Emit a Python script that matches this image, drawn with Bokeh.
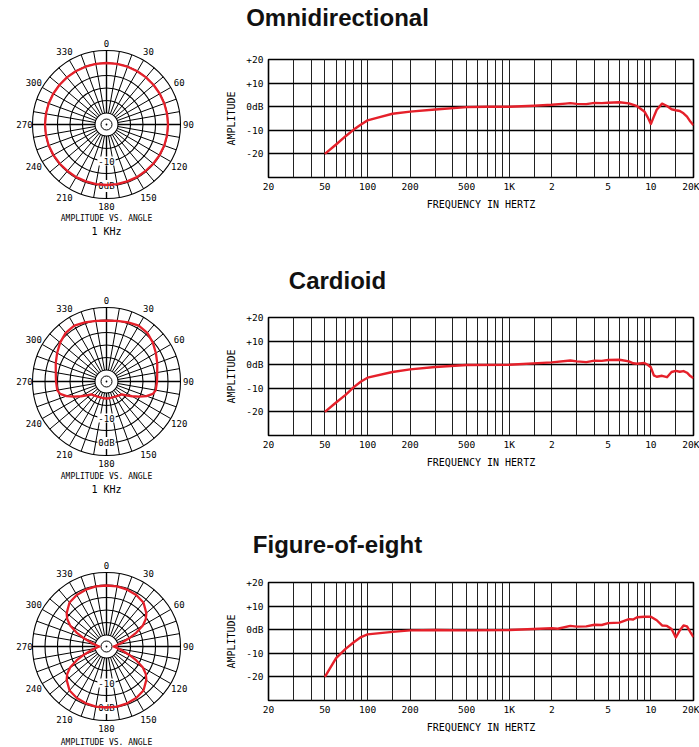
import math
from bokeh.plotting import figure
from bokeh.layouts import column, row
from bokeh.models import Range1d, FixedTicker
from bokeh.embed import file_html
from bokeh.resources import INLINE
from bokeh.core.properties import value

RED = "#e5202a"
MONO = "DejaVu Sans Mono"
TITLE_FONT = "Liberation Sans"

# ---------------- data ----------------
titles = ["Omnidirectional", "Cardioid", "Figure-of-eight"]

# frequency responses (Hz, dB)
omni_freq = [50, 60, 70, 80, 90, 100, 120, 150, 200, 300, 500, 700, 1000, 1500,
             2000, 2500, 2700, 3000, 3500, 4000, 4500, 5000, 6000, 7000, 8000,
             9000, 9500, 10000, 10500, 11000, 12000, 13000, 14000, 15000, 16000,
             17000, 18000, 19000, 20000]
omni_db = [-20, -16, -12.5, -9.7, -7.5, -5.8, -4.5, -3.0, -2.1, -1.2, -0.2, 0, 0, 0.4,
           0.8, 1.3, 1.5, 1.2, 1.1, 1.6, 1.5, 1.7, 1.9, 1.4, 0.2,
           -2.0, -4.5, -7.3, -4.2, -1.3, 1.3, 0.3, -1.1, -1.5, -1.8,
           -2.8, -4.2, -6.3, -7.9]

cardioid_freq = [50, 60, 70, 80, 90, 100, 150, 200, 300, 500, 1000, 2000, 2700, 3000,
                 3500, 4000, 4500, 5000, 6000, 7000, 7500, 8000, 9000, 9500, 10000,
                 10500, 11000, 12000, 13000, 14000, 15000, 16000, 17000, 18000,
                 19000, 20000]
cardioid_db = [-20, -16, -12.8, -9.5, -7.1, -5.5, -3.1, -2.0, -1.0, -0.1, 0, 1.0, 1.8, 1.4,
               1.1, 1.7, 1.6, 2.0, 2.1, 1.4, 0.6, 0.4, 0.7, 0, -1.1,
               -4.5, -5.1, -4.7, -5.3, -3.1, -2.6, -3.0, -2.7, -3.4,
               -4.8, -5.7]

fig8_freq = [50, 60, 70, 80, 90, 100, 150, 200, 300, 500, 1000, 2000, 2200, 2700, 3000,
             3500, 4000, 4500, 5000, 6000, 7000, 7500, 8000, 9000, 10000, 11000, 12000,
             13000, 14000, 15000, 16000, 17000, 18000, 19000, 20000]
fig8_db = [-20, -12, -8.1, -5.3, -3.1, -2.0, -0.9, -0.3, -0.1, -0.3, -0.1, 0.6, 0.4, 1.6, 1.3,
           1.4, 2.1, 2.0, 2.8, 3.0, 4.5, 4.3, 5.3, 5.5, 5.5, 4.0, 1.8,
           1.6, 0.3, -3.3, -0.3, 1.8, 1.4, -1.0, -3.1]

freq_label_ticks = [20, 50, 100, 200, 500, 1000, 2000, 5000, 10000, 20000]
freq_label_text = ["20", "50", "100", "200", "500", "1K", "2", "5", "10", "20K"]
freq_grid = [20, 30, 40, 50, 60, 70, 80, 90, 100, 150, 200, 300, 400, 500, 600, 700,
             800, 900, 1000, 1500, 2000, 3000, 4000, 5000, 6000, 7000, 8000, 9000,
             10000, 15000, 20000]
amp_ticks = [-20, -10, 0, 10, 20]
amp_labels = ["-20", "-10", "0dB", "+10", "+20"]

# polar patterns at 1 kHz (degrees, dB)
omni_ang = list(range(0, 360, 10))
omni_pol = [0, 0, 0, 0, 0, 0, 0, 0, 0, 0,
            0, 0, -0.1, -0.2, -0.3, -0.3, -0.4, -0.4, -0.4, -0.4,
            -0.4, -0.3, -0.3, -0.2, -0.1, 0, 0, 0, 0, 0,
            0, 0, 0, 0, 0, 0]

card_ang = [0, 10, 20, 30, 40, 50, 60, 70, 80, 90, 100, 105, 110, 115, 120, 125, 130,
            140, 150, 160, 170, 180, 190, 200, 210, 220, 230, 235, 240, 245, 250, 255,
            260, 270, 280, 290, 300, 310, 320, 330, 340, 350]
card_pol = [-0.3, 0, 0.6, 1.2, 0.8, -0.4, -1.8, -3.0, -4.0, -4.4, -4.6, -5.4, -7.6,
            -10.2, -12.8, -15.0, -16.6, -17.2, -17.6, -17.8, -17.8, -17.8, -17.8,
            -17.8, -17.6, -17.2, -16.6, -15.0, -12.8, -10.2, -7.6, -5.4, -4.6, -4.4,
            -4.0, -3.0, -1.8, -0.4, 0.8, 1.2, 0.6, 0]

fig8_ang = [0, 10, 20, 30, 40, 50, 55, 60, 65, 70, 75, 80, 85, 90, 95, 100, 105, 110,
            115, 120, 125, 130, 140, 150, 160, 170, 180, 190, 200, 210, 220, 230, 235,
            240, 245, 250, 255, 260, 265, 270, 275, 280, 285, 290, 295, 300, 305, 310,
            320, 330, 340, 350]
fig8_pol = [-0.2, -0.2, -0.4, -0.8, -1.6, -3.8, -5.4, -7.8, -11.4, -15.0, -17.8, -19.8,
            -21.0, -21.8, -21.0, -19.8, -17.8, -15.0, -11.4, -7.8, -5.4, -3.8, -1.6,
            -0.8, -0.4, -0.2, -0.2, -0.2, -0.4, -0.8, -1.6, -3.8, -5.4, -7.8, -11.4,
            -15.0, -17.8, -19.8, -21.0, -21.8, -21.0, -19.8, -17.8, -15.0, -11.4, -7.8,
            -5.4, -3.8, -1.6, -0.8, -0.4, -0.2]

polar_ring_db = [5, 0, -5, -10, -15, -20]
angle_label_deg = [0, 30, 60, 90, 120, 150, 180, 210, 240, 270, 300, 330]
angle_label_text = ["0", "30", "60", "90", "120", "150", "180", "210", "240", "270", "300", "330"]
polar_scale_db = [-10, 0]
polar_scale_text = ["-10", "0dB"]

# ---------------- drawing ----------------
R0, PX_DB = 61.5, 2.5
FH = 118          # frame height of the response charts
PW, FW = 208, 491  # widths of polar / response figures


def r_of(db):
    return R0 + PX_DB * db


def title_fig(h, text, baseline):
    p = figure(width=PW + FW, height=h, x_range=Range1d(0, PW + FW), y_range=Range1d(h, 0),
               toolbar_location=None, output_backend="svg", min_border=0,
               x_axis_location=None, y_axis_location=None, frame_align=False)
    p.grid.visible = False
    p.outline_line_color = None
    p.text(x=[337], y=[baseline], text=[text], text_font=value(TITLE_FONT),
           text_font_style="bold", text_font_size="24px", text_align="center",
           text_baseline="alphabetic", text_color="#111111")
    return p


def polar_fig(h, cy, ang, dbs, cap_y, khz_y):
    p = figure(width=PW, height=h, x_range=Range1d(-106, PW - 106), y_range=Range1d(cy - h, cy),
               toolbar_location=None, output_backend="svg", min_border=0,
               x_axis_location=None, y_axis_location=None, frame_align=False)
    p.grid.visible = False
    p.outline_line_color = None

    radii = [r_of(d) for d in polar_ring_db]
    p.circle(x=[0] * len(radii), y=[0] * len(radii), radius=radii,
             fill_color=None, line_color="black", line_width=1.1)
    p.circle(x=[0], y=[0], radius=[5.5], fill_color=None, line_color="black", line_width=1)
    p.circle(x=[0], y=[0], radius=[0.9], fill_color="black", line_color=None)

    r_in, r_out = r_of(min(polar_ring_db)), r_of(max(polar_ring_db))
    spokes = list(range(0, 360, 10))
    p.segment(x0=[r_in * math.sin(math.radians(a)) for a in spokes],
              y0=[r_in * math.cos(math.radians(a)) for a in spokes],
              x1=[r_out * math.sin(math.radians(a)) for a in spokes],
              y1=[r_out * math.cos(math.radians(a)) for a in spokes],
              line_color="black", line_width=1)
    axes = [0, 90, 180, 270]
    p.segment(x0=[r_in * math.sin(math.radians(a)) for a in axes],
              y0=[r_in * math.cos(math.radians(a)) for a in axes],
              x1=[r_out * math.sin(math.radians(a)) for a in axes],
              y1=[r_out * math.cos(math.radians(a)) for a in axes],
              line_color="black", line_width=1.4)

    lr = [81.5 if a % 180 == 0 else (82 if a % 90 == 0 else 84) for a in angle_label_deg]
    p.text(x=[r * math.sin(math.radians(a)) for r, a in zip(lr, angle_label_deg)],
           y=[r * math.cos(math.radians(a)) for r, a in zip(lr, angle_label_deg)],
           text=angle_label_text, text_font=value(MONO), text_font_size="9px",
           text_align="center", text_baseline="middle", text_color="black")

    p.text(x=[0] * len(polar_scale_db), y=[-r_of(d) for d in polar_scale_db],
           text=polar_scale_text, text_font=value(MONO), text_font_size="9px",
           text_align="center", text_baseline="middle", text_color="black",
           background_fill_color="white", padding=1)

    xs = [r_of(d) * math.sin(math.radians(a)) for a, d in zip(ang, dbs)]
    ys = [r_of(d) * math.cos(math.radians(a)) for a, d in zip(ang, dbs)]
    xs.append(xs[0])
    ys.append(ys[0])
    p.line(xs, ys, line_color=RED, line_width=2.3, line_join="round")

    p.text(x=[0], y=[cap_y], text=["AMPLITUDE VS. ANGLE"], text_font=value(MONO),
           text_font_size="8px", text_align="center", text_baseline="middle", text_color="black")
    if khz_y is not None:
        p.text(x=[0], y=[khz_y], text=["1 KHz"], text_font=value(MONO),
               text_font_size="10px", text_align="center", text_baseline="middle",
               text_color="black")
    return p


def freq_fig(h, top, freq, dbs):
    p = figure(width=FW, height=h, x_axis_type="log", x_range=Range1d(20, 20000),
               y_range=Range1d(-30, 20), toolbar_location=None, output_backend="svg",
               min_border_left=60, min_border_right=6, min_border_top=top,
               min_border_bottom=h - top - FH, frame_align=False)
    p.outline_line_color = "black"
    p.outline_line_width = 1.6

    p.xaxis.ticker = FixedTicker(ticks=freq_label_ticks)
    p.xaxis.major_label_overrides = dict(zip(freq_label_ticks, freq_label_text))
    p.yaxis.ticker = FixedTicker(ticks=amp_ticks)
    p.yaxis.major_label_overrides = dict(zip(amp_ticks, amp_labels))
    p.xaxis.axis_label = "FREQUENCY IN HERTZ"
    p.yaxis.axis_label = "AMPLITUDE"
    for ax in (p.xaxis, p.yaxis):
        ax.axis_line_color = None
        ax.major_tick_line_color = None
        ax.minor_tick_line_color = None
        ax.major_tick_out = 0
        ax.major_tick_in = 0
        ax.major_label_text_font = MONO
        ax.major_label_text_font_size = "9.5px"
        ax.major_label_text_color = "black"
        ax.axis_label_text_font = MONO
        ax.axis_label_text_font_size = "10px"
        ax.axis_label_text_font_style = "normal"
        ax.axis_label_text_color = "black"
    p.xaxis.major_label_standoff = 3
    p.yaxis.major_label_standoff = 5
    p.xaxis.axis_label_standoff = 4
    p.yaxis.axis_label_standoff = 6

    p.xgrid.ticker = FixedTicker(ticks=freq_grid)
    p.xgrid.grid_line_color = "#222222"
    p.xgrid.grid_line_width = 1
    p.ygrid.ticker = FixedTicker(ticks=amp_ticks)
    p.ygrid.grid_line_color = "black"
    p.ygrid.grid_line_width = 1.3

    p.line(freq, dbs, line_color=RED, line_width=2.4, line_join="round")
    return p


blocks = [
    dict(th=33, tb=17, h=230, top=26, cy=91, cap=-94, khz=-107,
         freq=omni_freq, db=omni_db, ang=omni_ang, pol=omni_pol),
    dict(th=30, tb=17, h=233, top=24, cy=88, cap=-95, khz=-108,
         freq=cardioid_freq, db=cardioid_db, ang=card_ang, pol=card_pol),
    dict(th=32, tb=18, h=189, top=24, cy=88, cap=-95.5, khz=None,
         freq=fig8_freq, db=fig8_db, ang=fig8_ang, pol=fig8_pol),
]

parts = []
for b, title in zip(blocks, titles):
    parts.append(title_fig(b["th"], title, b["tb"]))
    pp = polar_fig(b["h"], b["cy"], b["ang"], b["pol"], b["cap"], b["khz"])
    fp = freq_fig(b["h"], b["top"], b["freq"], b["db"])
    parts.append(row(pp, fp))

layout = column(*parts)
open("out.html", "w").write(file_html(layout, INLINE))
